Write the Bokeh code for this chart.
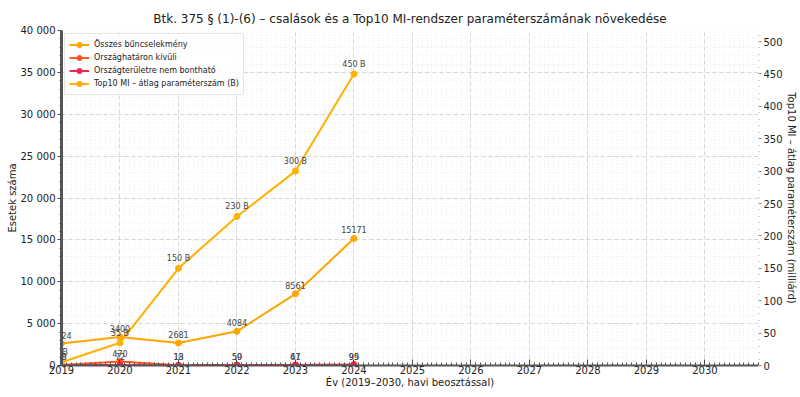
from bokeh.plotting import figure
from bokeh.models import (Range1d, LinearAxis, FixedTicker, Legend, LegendItem,
                          ColumnDataSource, LabelSet)
from bokeh.core.properties import value
from bokeh.embed import file_html
from bokeh.resources import INLINE

years = [2019, 2020, 2021, 2022, 2023, 2024]
osszes = [2624, 3400, 2681, 4084, 8561, 15171]
hataron_kivul = [58, 470, 18, 50, 47, 99]
nem_bonthato = [30, 72, 13, 59, 61, 95]
top10_param = [5, 35, 150, 230, 300, 450]
top10_labels = ["5 B", "35 B", "150 B", "230 B", "300 B", "450 B"]

left_ticks = [0, 5000, 10000, 15000, 20000, 25000, 30000, 35000, 40000]
right_ticks = [0, 50, 100, 150, 200, 250, 300, 350, 400, 450, 500]
year_ticks = list(range(2019, 2031))

X_LABEL = "Év (2019–2030, havi beosztással)"
Y_LABEL = "Esetek száma"
Y2_LABEL = "Top10 MI – átlag paraméterszám (milliárd)"

FONT = "DejaVu Sans"
C_TOTAL = "#FFA500"
C_KIVUL = "#FF5722"
C_NEM = "#F0284A"
C_TOP = "#FFB000"

months = [2019 + m / 12 for m in range(0, 12 * 12)]

p = figure(width=800, height=397, output_backend="svg", toolbar_location=None,
           x_range=Range1d(2019, 2030 + 11 / 12), y_range=Range1d(0, 40000),
           min_border_left=61, min_border_right=42, min_border_top=30,
           min_border_bottom=32)
p.extra_y_ranges = {"right": Range1d(0, 517)}

p.title.text = "Btk. 375 § (1)-(6) – csalások és a Top10 MI-rendszer paraméterszámának növekedése"
p.title.align = "center"
p.title.text_font = FONT
p.title.text_font_size = "12px"
p.title.text_font_style = "normal"
p.title.text_color = "#222222"

p.outline_line_color = None
p.background_fill_color = "white"

# grids
p.xgrid.ticker = FixedTicker(ticks=year_ticks, minor_ticks=months)
p.ygrid.ticker = FixedTicker(ticks=left_ticks, minor_ticks=list(range(0, 40001, 1000)))
for g in (p.xgrid, p.ygrid):
    g.grid_line_color = "#cccccc"
    g.grid_line_dash = "4 3"
    g.grid_line_alpha = 0.8
    g.minor_grid_line_color = "#eeeeee"
    g.minor_grid_line_dash = "1 2"

xa = p.xaxis[0]
xa.ticker = FixedTicker(ticks=year_ticks, minor_ticks=months)
xa.axis_label = X_LABEL
ya = p.yaxis[0]
ya.ticker = FixedTicker(ticks=left_ticks, minor_ticks=list(range(0, 40001, 1000)))
ya.major_label_overrides = {t: ("{:,}".format(t).replace(",", " ")) for t in left_ticks}
ya.axis_label = Y_LABEL

ra = LinearAxis(y_range_name="right", axis_label=Y2_LABEL,
                ticker=FixedTicker(ticks=right_ticks, minor_ticks=list(range(0, 521, 10))))
p.add_layout(ra, "right")

for ax in (xa, ya, ra):
    ax.axis_label_text_font = FONT
    ax.axis_label_text_font_size = "10px"
    ax.axis_label_text_font_style = "normal"
    ax.axis_label_text_color = "#222222"
    ax.major_label_text_font = FONT
    ax.major_label_text_font_size = "10px"
    ax.major_label_text_color = "#222222"
    ax.major_tick_line_color = "#444444"
    ax.minor_tick_line_color = "#555555"
    ax.major_tick_in = 0
    ax.major_tick_out = 4
    ax.minor_tick_in = 0
    ax.minor_tick_out = 2
    ax.axis_label_standoff = 2
    ax.major_label_standoff = 2

xa.major_tick_in = 6
xa.major_tick_out = 0
xa.minor_tick_in = 3
xa.minor_tick_out = 0
xa.major_label_standoff = 0
xa.axis_label_standoff = 0
xa.axis_line_color = "#555555"
xa.axis_line_width = 2
ya.axis_line_color = "#555555"
ya.axis_line_width = 3
ya.axis_label_standoff = 0
ra.axis_line_color = None
ra.major_tick_line_color = "#888888"
ra.minor_tick_line_color = "#aaaaaa"
ra.major_tick_out = 3
ra.minor_tick_out = 1
ra.major_label_standoff = 2
ra.axis_label_standoff = 0

src = ColumnDataSource(dict(
    x=years, total=osszes, kivul=hataron_kivul, nem=nem_bonthato, top=top10_param,
    total_lbl=[str(v) for v in osszes], kivul_lbl=[str(v) for v in hataron_kivul],
    nem_lbl=[str(v) for v in nem_bonthato], top_lbl=top10_labels))

r1l = p.line("x", "total", source=src, line_color=C_TOTAL, line_width=2)
r1c = p.scatter("x", "total", source=src, color=C_TOTAL, size=6)
r2l = p.line("x", "kivul", source=src, line_color=C_KIVUL, line_width=2)
r2c = p.scatter("x", "kivul", source=src, color=C_KIVUL, size=6)
r3l = p.line("x", "nem", source=src, line_color=C_NEM, line_width=2)
r3c = p.scatter("x", "nem", source=src, color=C_NEM, size=6)
r4l = p.line("x", "top", source=src, line_color=C_TOP, line_width=2, y_range_name="right")
r4c = p.scatter("x", "top", source=src, color=C_TOP, size=6, y_range_name="right")

for col, lbl, rng in (("total", "total_lbl", "default"), ("kivul", "kivul_lbl", "default"),
                      ("nem", "nem_lbl", "default"), ("top", "top_lbl", "right")):
    ls = LabelSet(x="x", y=col, text=lbl, source=src, y_range_name=rng,
                  x_offset=0, y_offset=5, text_align="center", level="overlay",
                  text_font=value(FONT), text_font_size="8px", text_color="#444444")
    p.add_layout(ls)

legend = Legend(items=[
    LegendItem(label="Összes bűncselekmény", renderers=[r1l, r1c]),
    LegendItem(label="Országhatáron kívüli", renderers=[r2l, r2c]),
    LegendItem(label="Országterületre nem bontható", renderers=[r3l, r3c]),
    LegendItem(label="Top10 MI – átlag paraméterszám (B)", renderers=[r4l, r4c]),
], location="top_left")
legend.label_text_font = FONT
legend.label_text_font_size = "8px"
legend.label_text_color = "#222222"
legend.glyph_height = 13
legend.glyph_width = 20
legend.label_height = 13
legend.spacing = 0
legend.padding = 4
legend.margin = 3
legend.border_line_color = "#cccccc"
legend.background_fill_alpha = 0.9
p.add_layout(legend)

open("out.html", "w").write(file_html(p, INLINE))
